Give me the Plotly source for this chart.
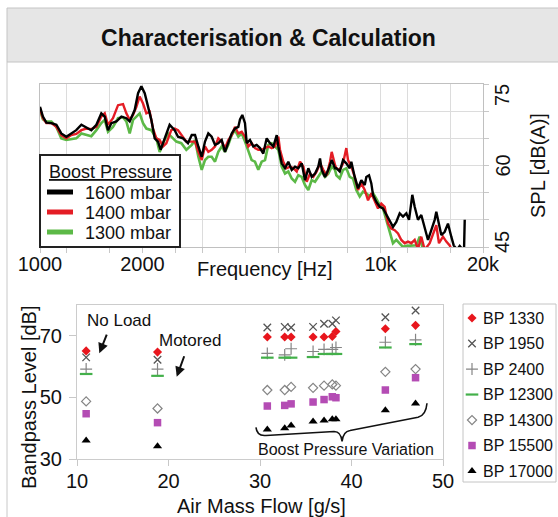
import plotly.graph_objects as go

W, H = 558, 517
FONT = "Liberation Sans, Arial, Helvetica, sans-serif"

# ---------------- top chart: SPL spectra ----------------
freq_1600 = [1000, 1020, 1044, 1080, 1117, 1155, 1195, 1236, 1278, 1323, 1368, 1415, 1464, 1514, 1549,
             1584, 1620, 1676, 1734, 1793, 1834, 1897, 1941, 1985, 2030, 2076, 2123, 2172, 2221, 2261,
             2323, 2403, 2486, 2543, 2630, 2720,
             2790, 2853, 2918, 2985, 3052, 3121, 3193, 3266, 3339, 3417, 3494, 3573, 3656, 3738, 3823,
             3867, 3928, 4000, 4046, 4137, 4230, 4328, 4427, 4527, 4632, 4737, 4844, 4957, 5011, 5127,
             5243, 5361, 5486, 5610, 5736, 5870, 6002, 6138, 6281, 6421, 6567, 6643, 6720, 6871, 7026,
             7189, 7352,
             7419, 7590, 7762, 7937, 8122, 8209, 8400, 8590, 8784, 8989, 9087, 9254, 9398, 9506, 9721,
             9947, 10170, 10399, 10641, 10882, 11128, 11387, 11644, 11907, 12126, 12400, 12601, 12885,
             13176, 13483, 13788, 14099, 14427, 14584, 14851, 15086, 15438, 15783, 16140, 16406, 16777,
             17086, 17392, 17600, 17675]
spl_1600 = [70.8, 69.0, 67.9, 67.8, 67.5, 65.9, 65.3, 65.9, 66.5, 67.5, 67.0, 66.5, 67.5, 69.6, 69.0,
            66.5, 67.8, 68.1, 69.0, 68.7, 68.1, 70.2, 73.3, 74.6, 73.3, 71.1, 68.4, 65.0, 64.4, 62.9,
            65.0, 67.5, 66.5, 65.3, 65.0, 64.1,
            65.6, 65.6, 63.5, 61.6, 64.4, 65.9, 65.3, 63.8, 64.1, 64.7, 62.5, 64.4, 65.9, 66.8, 67.1,
            68.5, 69.3, 67.8, 64.1, 64.7, 63.5, 63.8, 63.2, 62.2, 65.0, 64.1, 63.5, 65.6, 63.5, 60.4,
            59.5, 60.7, 59.2, 59.8, 59.5, 60.4, 57.3, 59.5, 57.9, 58.5, 59.8, 61.3, 59.2, 57.9, 59.2,
            61.0, 59.5,
            59.5, 58.9, 61.0, 60.4, 59.5, 60.7, 57.9, 55.8, 57.3, 56.4, 57.9, 58.2, 56.7, 54.6, 53.3,
            52.4, 52.1, 50.9, 49.6, 48.7, 49.6, 51.2, 50.6, 51.2, 50.0, 54.6, 52.4, 50.0,
            50.9, 48.7, 46.3, 48.1, 50.0, 51.5, 49.3, 47.2, 47.8, 49.3, 46.9, 45.3, 44.5,
            45.2, 44.6, 45.0, 50.0]

freq_1400 = [1000, 1020, 1044, 1080, 1117, 1155, 1195, 1236, 1278, 1323, 1368, 1415, 1464, 1514, 1549,
             1584, 1638, 1695, 1753, 1793, 1834, 1876, 1919, 1962, 2007, 2053, 2100, 2147, 2196, 2246,
             2297, 2350, 2430, 2486, 2543, 2630, 2690,
             2790, 2853, 2918, 2985, 3052, 3121, 3193, 3266, 3339, 3417, 3494, 3573, 3656, 3738, 3823,
             3912, 4000, 4090, 4184, 4279, 4376, 4478, 4579, 4683, 4792, 4900, 5011, 5068, 5183, 5303,
             5423, 5546, 5675, 5803, 5934, 6072, 6209, 6349, 6496, 6643, 6792, 6950, 7107, 7189, 7352,
             7419, 7590, 7762, 7937, 8029, 8209, 8400, 8590, 8784, 8989, 9192, 9398, 9616, 9833, 10055,
             10287, 10520, 10757, 11008, 11257, 11511, 11779, 12045, 12317, 12601, 12885, 13176, 13483,
             13947, 14262, 14427, 14584, 14851, 15261, 15606, 15966, 16327]
spl_1400 = [70.5, 68.7, 67.8, 67.8, 67.1, 65.6, 65.0, 65.6, 65.8, 66.5, 66.8, 66.7, 67.1, 69.0, 69.6,
            67.5, 68.7, 71.1, 71.3, 69.6, 68.4, 69.3, 70.8, 72.7, 71.4, 69.6, 69.9, 66.8, 65.0, 64.7,
            63.5, 64.1, 66.5, 66.8, 66.5, 65.3, 64.4,
            64.4, 64.4, 62.5, 61.0, 63.5, 62.5, 62.9, 63.5, 65.0, 64.4, 63.2, 64.7, 65.6, 67.1, 65.9,
            66.2, 65.3, 63.5, 64.1, 63.2, 62.9, 62.9, 63.2, 63.5, 63.2, 63.5, 65.3, 62.9, 60.7, 59.5,
            59.8, 59.5, 58.9, 60.7, 59.8, 57.0, 58.5, 57.9, 58.9, 60.4, 59.2, 58.2, 60.7, 62.5, 60.1,
            59.5, 59.2, 60.4, 63.2, 61.0, 59.8, 57.9, 55.5, 56.7, 55.5, 53.6, 54.9, 53.6, 52.1, 53.0,
            52.4, 49.3, 48.4, 48.1, 47.5, 46.3, 45.7, 46.0, 45.7, 46.3, 44.6, 46.9, 44.5,
            45.7, 47.5, 48.4, 49.0, 45.7, 46.9, 46.0, 45.3, 44.0]

freq_1300 = [1000, 1020, 1044, 1080, 1117, 1155, 1195, 1236, 1278, 1323, 1368, 1415, 1464, 1514, 1549,
             1584, 1638, 1695, 1753, 1793, 1834, 1876, 1919, 1962, 2007, 2053, 2123, 2196, 2246, 2297,
             2376, 2430, 2514, 2600, 2690,
             2790, 2853, 2918, 2985, 3052, 3121, 3193, 3266, 3339, 3417, 3494, 3573, 3656, 3738, 3823,
             3912, 4000, 4090, 4184, 4279, 4376, 4478, 4579, 4683, 4792, 4900, 5011, 5127, 5243, 5361,
             5486, 5610, 5736, 5870, 6002, 6138, 6281, 6421, 6567, 6720, 6871, 7026, 7189, 7352,
             7419, 7590, 7762, 7937, 8122, 8304, 8491, 8689, 8886, 9087, 9298, 9506, 9721, 9947, 10170,
             10399, 10641, 10882, 11128, 11387, 11644, 11907, 12317, 12738, 13034, 13329, 14000]
spl_1300 = [70.2, 68.5, 68.1, 68.1, 67.1, 65.0, 64.7, 64.8, 65.0, 65.9, 65.6, 65.4, 66.5, 67.8, 68.4,
            66.2, 67.1, 68.7, 68.9, 68.1, 65.9, 68.4, 69.0, 69.6, 67.8, 66.8, 66.5, 65.0, 62.5, 64.1,
            65.9, 65.3, 64.4, 64.1, 62.9,
            63.8, 64.7, 61.6, 59.2, 61.0, 61.6, 61.6, 60.7, 62.5, 63.5, 62.5, 63.8, 65.6, 66.5, 65.3,
            65.9, 64.4, 62.5, 61.0, 60.7, 59.2, 60.7, 61.0, 63.8, 64.1, 63.5, 62.9, 59.8, 58.5, 58.9,
            57.6, 57.0, 58.2, 57.9, 56.4, 55.5, 57.3, 57.0, 57.9, 58.9, 57.9, 58.5, 59.8, 59.2,
            58.2, 57.6, 59.2, 59.5, 57.9, 57.6, 55.5, 54.3, 55.2, 54.9, 54.3, 54.9, 53.9, 52.7, 52.1,
            50.0, 47.5, 45.7, 46.3, 45.7, 45.0, 45.2, 45.3, 45.3, 46.9, 44.5, 43.0]

boost_labels = ["1600 mbar", "1400 mbar", "1300 mbar"]
freq_tickvals = [1000, 1200, 1600, 2000, 2500, 3000, 4000, 5000, 6000, 8000, 10000, 12000, 16000, 20000]
freq_ticktext = ["1000", "", "", "2000", "", "", "", "", "", "", "10k", "", "", "20k"]
spl_gridvals = [45, 50, 55, 60, 65, 70, 75]
spl_ticklabels = [75, 60, 45]

# ---------------- bottom chart: bandpass levels ----------------
air_mass_flow = [11.0, 18.8, 30.8, 32.7, 33.4, 35.8, 37.0, 37.9, 38.3, 43.7, 47.0]
bp_names = ["BP 1330", "BP 1950", "BP 2400", "BP 12300", "BP 14300", "BP 15500", "BP 17000"]
bp_1330 = [65.1, 64.7, 69.6, 69.6, 69.6, 69.6, 69.6, 69.8, 71.4, 72.3, 73.4]
bp_1950 = [63.0, 62.2, 72.7, 72.9, 72.7, 72.9, 73.9, 73.9, 75.0, 76.0, 78.2]
bp_2400 = [59.2, 59.2, 64.3, 63.8, 65.8, 64.9, 65.6, 65.6, 66.2, 67.9, 68.7]
bp_12300 = [57.6, 57.0, 62.9, 62.9, 62.9, 63.1, 64.1, 64.1, 64.1, 66.2, 67.3]
bp_14300 = [48.7, 46.4, 52.4, 52.4, 53.4, 53.1, 53.8, 54.2, 53.8, 58.3, 59.2]
bp_15500 = [44.7, 41.8, 47.2, 47.4, 47.9, 48.5, 49.3, 50.2, 49.9, 52.4, 56.4]
bp_17000 = [36.0, 34.1, 39.6, 40.0, 40.9, 42.2, 42.5, 42.9, 42.9, 45.8, 48.0]
bp_ticks = [30, 50, 70]
flow_ticks = [10, 20, 30, 40, 50]


def px(x):
    return x / W


def py(y):
    return 1 - y / H


fig = go.Figure()

# ---- spectra ----
spectra = [
    (freq_1300, spl_1300, "#5cb947", 2.6),
    (freq_1400, spl_1400, "#e41d25", 2.4),
    (freq_1600, spl_1600, "#000000", 2.4),
]
for f, s, color, w in spectra:
    fig.add_trace(go.Scatter(x=f, y=s, mode="lines", line=dict(color=color, width=w),
                             xaxis="x", yaxis="y", showlegend=False, hoverinfo="skip"))

# ---- bandpass scatter ----
bp_series = [bp_1330, bp_1950, bp_2400, bp_12300, bp_14300, bp_15500, bp_17000]
bp_markers = [
    dict(symbol="diamond", size=7, color="#e8161d", line=dict(width=0)),
    dict(symbol="x-thin-open", size=7.5, color="#555555", line=dict(width=1.3, color="#555555")),
    dict(symbol="cross-thin-open", size=8.5, color="#858585", line=dict(width=1.2, color="#858585")),
    dict(symbol="line-ew-open", size=9, color="#43b04a", line=dict(width=2.2, color="#43b04a")),
    dict(symbol="diamond-open", size=7, color="#858585", line=dict(width=1.2, color="#858585")),
    dict(symbol="square", size=7.5, color="#b44cb4", line=dict(width=0)),
    dict(symbol="triangle-up", size=8, color="#000000", line=dict(width=0)),
]
for name, vals, mk in zip(bp_names, bp_series, bp_markers):
    fig.add_trace(go.Scatter(x=air_mass_flow, y=vals, mode="markers", name=name, marker=mk,
                             xaxis="x2", yaxis="y2", showlegend=False, hoverinfo="skip"))

# ---- bottom legend (own hidden subplot) ----
LEG_MARK_X, LEG_TEXT_X = 9, 18
annotations = []
for i, (name, mk) in enumerate(zip(bp_names, bp_markers)):
    fig.add_trace(go.Scatter(x=[LEG_MARK_X], y=[i], mode="markers", marker=mk,
                             xaxis="x3", yaxis="y3", showlegend=False, hoverinfo="skip"))
    annotations.append(dict(x=LEG_TEXT_X, y=i, xref="x3", yref="y3", text=name, xanchor="left",
                            yanchor="middle", showarrow=False, font=dict(size=16, color="#111")))

# ---- frame, legend boxes ----
shapes = [
    dict(type="rect", xref="paper", yref="paper", x0=px(7), x1=px(560), y0=py(62), y1=py(8),
         fillcolor="#e6e6e6", line=dict(color="#c4c4c4", width=1), layer="below"),
    dict(type="line", xref="paper", yref="paper", x0=px(7), x1=px(7), y0=py(62), y1=0,
         line=dict(color="#c8c8c8", width=1), layer="below"),
    dict(type="rect", xref="paper", yref="paper", x0=px(40), x1=px(180), y0=py(247), y1=py(155),
         fillcolor="white", line=dict(color="#222222", width=2), layer="above"),
    dict(type="rect", xref="paper", yref="paper", x0=px(463), x1=px(556), y0=py(482), y1=py(304),
         fillcolor="rgba(0,0,0,0)", line=dict(color="#c4c4c4", width=1), layer="below"),
]


def text_ann(x, y, text, size, angle=0):
    return dict(x=px(x), y=py(y), xref="paper", yref="paper", text=text, textangle=angle,
                xanchor="center", yanchor="middle", showarrow=False, font=dict(size=size, color="#111"))


annotations.append(dict(x=px(47), y=py(172), xref="paper", yref="paper", text="<u>Boost Pressure</u>",
                        xanchor="left", yanchor="middle", showarrow=False, font=dict(size=18, color="#111")))
legend_rows = [193, 213, 233]
legend_colors = ["#000000", "#e41d25", "#5cb947"]
for lab, row, col in zip(boost_labels, legend_rows, legend_colors):
    shapes.append(dict(type="line", xref="paper", yref="paper", x0=px(47), x1=px(73), y0=py(row - 1),
                       y1=py(row - 1), line=dict(color=col, width=5), layer="above"))
    annotations.append(dict(x=px(83), y=py(row), xref="paper", yref="paper", text=lab, xanchor="left",
                            yanchor="middle", showarrow=False, font=dict(size=18, color="#111")))

# brace under the boost pressure variation points
shapes.append(dict(type="path", xref="x2", yref="y2",
                   path="M 29.56 40.26 Q 29.67 37.32 30.66 37.65 L 38.09 38.95 Q 38.86 38.95 38.97 35.69 "
                        "Q 39.07 38.95 39.84 39.28 L 47.27 43.53 Q 48.14 44.18 48.25 48.10",
                   line=dict(color="#111111", width=1.6), layer="above"))

# rotated SPL tick labels (nudged inside the plot like the original)
shifts = {75: -11, 60: 0, 45: 5}
for v in spl_ticklabels:
    annotations.append(dict(x=1, xref="x domain", xshift=19, y=v, yref="y", yshift=shifts[v],
                            xanchor="center", yanchor="middle",
                            text=str(v), textangle=-90, showarrow=False, font=dict(size=20, color="#111")))
annotations += [
    text_ann(538, 166, "SPL [dB(A)]", 20, -90),
    text_ann(265, 269, "Frequency [Hz]", 20),
    text_ann(261, 506, "Air Mass Flow [g/s]", 20),
    text_ann(29, 398, "Bandpass Level [dB]", 20, -90),
    text_ann(119, 320, "No Load", 17),
    text_ann(190, 340, "Motored", 17),
    text_ann(346, 449, "Boost Pressure Variation", 16),
    dict(x=12.44, y=64.35, xref="x2", yref="y2", text="", showarrow=True, ax=8, ay=-20,
         arrowhead=2, arrowsize=1, arrowwidth=2, arrowcolor="#111"),
    dict(x=20.9, y=56.7, xref="x2", yref="y2", text="", showarrow=True, ax=8, ay=-22,
         arrowhead=2, arrowsize=1, arrowwidth=2, arrowcolor="#111"),
]

axis_common = dict(showline=True, mirror=True, zeroline=False, automargin=False,
                   tickfont=dict(size=20, color="#111"))

fig.update_layout(
    width=W, height=H, margin=dict(l=0, r=0, t=0, b=0), template="none",
    paper_bgcolor="white", plot_bgcolor="rgba(0,0,0,0)",
    font=dict(family=FONT, size=20, color="#111"), showlegend=False,
    title=dict(text="<b>Characterisation & Calculation</b>", x=px(268.5), y=py(38),
               xanchor="center", yanchor="middle", font=dict(size=23, color="#111")),
    xaxis=dict(type="log", range=[3, 4.30103], domain=[px(40), px(483)], anchor="y",
               tickmode="array", tickvals=freq_tickvals, ticktext=freq_ticktext,
               showgrid=True, gridcolor="#dcdcdc", ticks="outside", ticklen=5, tickcolor="#c8c8c8",
               ticklabelstandoff=-6, linecolor="#c0c0c0", **axis_common),
    yaxis=dict(range=[45, 75], domain=[py(247), py(84)], anchor="x", side="right",
               tickmode="array", tickvals=spl_gridvals, showticklabels=False,
               showgrid=True, gridcolor="#dcdcdc", ticks="outside", ticklen=5, tickcolor="#c8c8c8",
               linecolor="#c0c0c0", **axis_common),
    xaxis2=dict(range=[10, 50], domain=[px(77), px(443)], anchor="y2", tickmode="array",
                tickvals=flow_ticks, showgrid=False, ticks="outside", ticklen=6, tickcolor="#c8c8c8",
                ticklabelstandoff=-2, linecolor="#cccccc", **axis_common),
    yaxis2=dict(range=[30, 80], domain=[py(459), py(305)], anchor="x2", tickmode="array",
                tickvals=bp_ticks, showgrid=False, ticks="outside", ticklen=7, tickcolor="#c8c8c8",
                ticklabelstandoff=3, linecolor="#cccccc", **axis_common),
    xaxis3=dict(range=[0, 93], domain=[px(463), px(556)], anchor="y3", visible=False),
    yaxis3=dict(range=[6.43, -0.55], domain=[py(482), py(304)], anchor="x3", visible=False),
    shapes=shapes, annotations=annotations,
)

fig.write_html("out.html", config={"displayModeBar": False},
               post_script="document.body.style.margin='0px';")
